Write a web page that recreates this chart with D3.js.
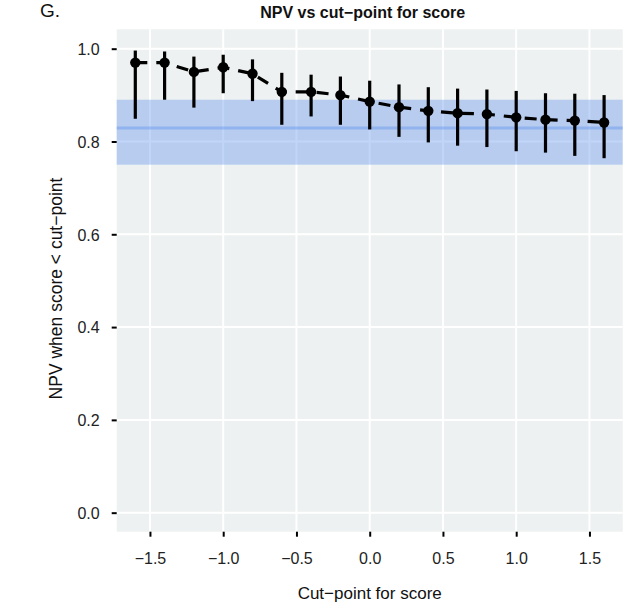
<!DOCTYPE html>
<html>
<head>
<meta charset="utf-8">
<script src="https://cdn.jsdelivr.net/npm/d3@7"></script>
<style>
  html, body { margin: 0; padding: 0; background: #ffffff; }
  svg { display: block; }
  text { font-family: "Liberation Sans", Arial, Helvetica, sans-serif; }
</style>
</head>
<body>
<svg id="chart" width="638" height="613"></svg>
<script>
// ---- data ----
const cutPoints = [-1.6, -1.4, -1.2, -1.0, -0.8, -0.6, -0.4, -0.2, 0.0, 0.2, 0.4, 0.6, 0.8, 1.0, 1.2, 1.4, 1.6];
const npv      = [0.970, 0.970, 0.950, 0.960, 0.946, 0.907, 0.907, 0.900, 0.886, 0.874, 0.866, 0.861, 0.859, 0.852, 0.847, 0.845, 0.841];
const npvLower = [0.849, 0.890, 0.873, 0.904, 0.887, 0.836, 0.854, 0.836, 0.826, 0.810, 0.798, 0.791, 0.788, 0.779, 0.776, 0.769, 0.764];
const npvUpper = [0.996, 0.994, 0.983, 0.987, 0.977, 0.948, 0.944, 0.940, 0.931, 0.923, 0.917, 0.914, 0.912, 0.909, 0.904, 0.903, 0.900];
const refBand = [0.75, 0.89];
const refLine = [0.829];
const xTicks = [-1.5, -1.0, -0.5, 0.0, 0.5, 1.0, 1.5];
const yTicks = [0.0, 0.2, 0.4, 0.6, 0.8, 1.0];

const panel = { left: 116.7, right: 622.7, top: 29.3, bottom: 531.7 };

const svg = d3.select("#chart");

const x = d3.scaleLinear().domain([-1.727, 1.727]).range([panel.left, panel.right]);
const y = d3.scaleLinear().domain([-0.041, 1.0418]).range([panel.bottom, panel.top]);

const data = cutPoints.map((c, i) => ({ c, v: npv[i], lo: npvLower[i], hi: npvUpper[i] }));

// panel background
svg.append("rect")
  .attr("x", panel.left).attr("y", panel.top)
  .attr("width", panel.right - panel.left).attr("height", panel.bottom - panel.top)
  .attr("fill", "#eef1f1");

// gridlines
svg.append("g").selectAll("line").data(xTicks).join("line")
  .attr("x1", d => x(d)).attr("x2", d => x(d))
  .attr("y1", panel.top).attr("y2", panel.bottom)
  .attr("stroke", "#ffffff").attr("stroke-width", 2);
svg.append("g").selectAll("line").data(yTicks).join("line")
  .attr("y1", d => y(d)).attr("y2", d => y(d))
  .attr("x1", panel.left).attr("x2", panel.right)
  .attr("stroke", "#ffffff").attr("stroke-width", 2);

// reference band and line
svg.append("rect")
  .attr("x", panel.left).attr("width", panel.right - panel.left)
  .attr("y", y(refBand[1])).attr("height", y(refBand[0]) - y(refBand[1]))
  .attr("fill", "#6495ed").attr("fill-opacity", 0.4);
svg.append("g").selectAll("line").data(refLine).join("line")
  .attr("x1", panel.left).attr("x2", panel.right)
  .attr("y1", d => y(d)).attr("y2", d => y(d))
  .attr("stroke", "#6495ed").attr("stroke-opacity", 0.45).attr("stroke-width", 3);

// dashed line
svg.append("path")
  .datum(data)
  .attr("d", d3.line().x(d => x(d.c)).y(d => y(d.v)))
  .attr("fill", "none").attr("stroke", "#000").attr("stroke-width", 3.2)
  .attr("stroke-dasharray", "12,9");

// error bars
svg.append("g").selectAll("line").data(data).join("line")
  .attr("x1", d => x(d.c)).attr("x2", d => x(d.c))
  .attr("y1", d => y(d.lo)).attr("y2", d => y(d.hi))
  .attr("stroke", "#000").attr("stroke-width", 3.2);

// points
svg.append("g").selectAll("circle").data(data).join("circle")
  .attr("cx", d => x(d.c)).attr("cy", d => y(d.v)).attr("r", 5.2)
  .attr("fill", "#000");

// axes
const xAxis = svg.append("g")
  .attr("transform", `translate(0,${panel.bottom})`)
  .call(d3.axisBottom(x).tickValues(xTicks).tickFormat(d3.format(".1f")).tickSize(5).tickPadding(16));
const yAxis = svg.append("g")
  .attr("transform", `translate(${panel.left},0)`)
  .call(d3.axisLeft(y).tickValues(yTicks).tickFormat(d3.format(".1f")).tickSize(5).tickPadding(12));
[xAxis, yAxis].forEach(a => {
  a.select(".domain").remove();
  a.selectAll(".tick line").attr("stroke", "#000").attr("stroke-width", 2);
  a.selectAll(".tick text").attr("fill", "#222").style("font-size", "16px")
    .style("font-family", "'Liberation Sans', Arial, sans-serif");
});
yAxis.selectAll(".tick text").attr("dy", "0.36em");

// titles
svg.append("text")
  .attr("x", (panel.left + panel.right) / 2 - 7).attr("y", 18)
  .attr("text-anchor", "middle")
  .style("font-size", "16px").style("font-weight", "bold")
  .attr("fill", "#111")
  .text("NPV vs cut\u2212point for score");

svg.append("text")
  .attr("x", 40).attr("y", 17)
  .style("font-size", "19px")
  .attr("fill", "#111")
  .text("G.");

svg.append("text")
  .attr("x", (panel.left + panel.right) / 2).attr("y", 599)
  .attr("text-anchor", "middle")
  .style("font-size", "17px")
  .attr("fill", "#111")
  .text("Cut\u2212point for score");

svg.append("text")
  .attr("transform", `translate(62,${(panel.top + panel.bottom) / 2 + 8}) rotate(-90)`)
  .attr("text-anchor", "middle")
  .style("font-size", "17.5px")
  .attr("fill", "#111")
  .text("NPV when score < cut\u2212point");
</script>
</body>
</html>
